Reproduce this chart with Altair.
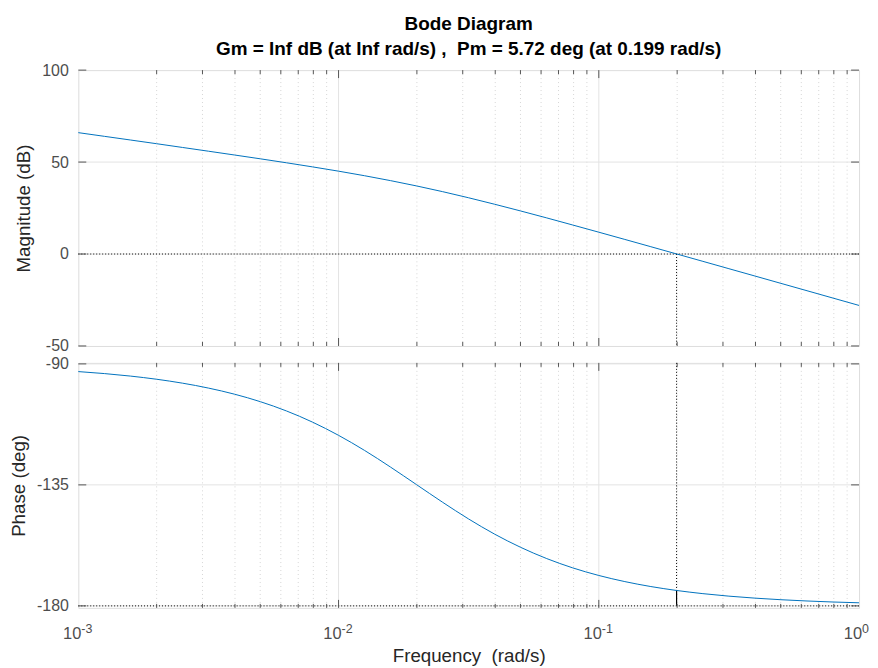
import altair as alt
import pandas as pd

# ---------------- data ----------------
freq = [0.001, 0.001259, 0.001585, 0.001995, 0.002512, 0.003162, 0.003981, 0.005012,
        0.00631, 0.007943, 0.01, 0.01259, 0.01585, 0.01995, 0.02512, 0.03162, 0.03981,
        0.05012, 0.0631, 0.07943, 0.1, 0.1259, 0.1585, 0.1995, 0.2512, 0.3162, 0.3981,
        0.5012, 0.631, 0.7943, 1.0]
mag_db = [66.0, 64.0, 62.0, 60.0, 57.95, 55.91, 53.85, 51.76, 49.61, 47.38, 45.05,
          42.57, 39.9, 37.02, 33.91, 30.58, 27.06, 23.4, 19.63, 15.77, 11.87, 7.93,
          3.97, 0.0, -3.99, -7.98, -11.97, -15.97, -19.96, -23.96, -27.96]
phase_deg = [-92.86, -93.6, -94.53, -95.7, -97.16, -98.99, -101.26, -104.07, -107.51,
             -111.66, -116.57, -122.19, -128.4, -134.93, -141.47, -147.69, -153.33,
             -158.24, -162.41, -165.87, -168.69, -170.97, -172.81, -174.28, -175.45,
             -176.38, -177.12, -177.71, -178.18, -178.56, -178.85]

decade_ticks = [0.001, 0.01, 0.1, 1.0]
decade_base = ["10", "10", "10", "10"]
decade_exp = ["-3", "-2", "-1", "0"]
major_grid_x = [0.01, 0.1]
minor_x = [0.002, 0.003, 0.004, 0.005, 0.006, 0.007, 0.008, 0.009,
           0.02, 0.03, 0.04, 0.05, 0.06, 0.07, 0.08, 0.09,
           0.2, 0.3, 0.4, 0.5, 0.6, 0.7, 0.8, 0.9]
mag_ticks = [-50, 0, 50, 100]
mag_grid = [50, 0]
phase_ticks = [-180, -135, -90]
mag_domain = [-50, 100]
phase_domain = [-180.74, -89.63]

pm_freq = 0.199
pm_phase = -174.28
gain_ref = 0
phase_ref = -180

title_text = "Bode Diagram"
subtitle_text = "Gm = Inf dB (at Inf rad/s) ,\u00a0 Pm = 5.72 deg (at 0.199 rad/s)"
mag_label = "Magnitude (dB)"
phase_label = "Phase (deg)"
freq_label = "Frequency\u00a0 (rad/s)"

# ---------------- style ----------------
W, H1, H2 = 784, 277, 246
FONT = "Liberation Sans, Arial, sans-serif"
FRAME = "#555555"
LABEL = "#4d4d4d"
TITLE = "#262626"
LINE = "#0072BD"
GRID = "#e3e3e3"
MINOR = "#d6d6d6"
MAJ_T, MIN_T = 8, 4
TICK_FS = 16
AXT_FS = 18.8

xscale = alt.Scale(type="log", domain=[0.001, 1], nice=False)
ymag = alt.Scale(domain=mag_domain, nice=False, zero=False)
yph = alt.Scale(domain=phase_domain, nice=False, zero=False)

df_curve = pd.DataFrame({"freq": freq, "mag": mag_db, "phase": phase_deg})
df_minor = pd.DataFrame({"f": minor_x})
df_major = pd.DataFrame({"f": major_grid_x})
df_dec = pd.DataFrame({"f": decade_ticks, "base": decade_base, "exp": decade_exp})


def yaxis(vals, title, tx):
    return alt.Axis(values=vals, ticks=False, tickSize=0, domain=False, grid=False,
                    labelExpr="'' + datum.value",
                    labelPadding=10, labelFontSize=TICK_FS, labelColor=LABEL, labelFont=FONT,
                    title=title, titleFontSize=AXT_FS, titleFontWeight="normal",
                    titleColor=TITLE, titleFont=FONT, titleX=tx, titleBaseline="alphabetic")


freq_axis = alt.Axis(labels=False, ticks=False, tickSize=0, domain=False, grid=False,
                     title=freq_label, titleFontSize=AXT_FS, titleFontWeight="normal",
                     titleColor=TITLE, titleFont=FONT, titleY=54, titleBaseline="alphabetic")


def build_panel(h, yscale, yvals, ytitle, ytx, xaxis, grid_y, ref_y, pm_segments, ycol,
                bottom_labels):
    yax = yaxis(yvals, ytitle, ytx)

    def X(field="f"):
        return alt.X(f"{field}:Q", scale=xscale, axis=xaxis)

    def Y(field="v"):
        return alt.Y(f"{field}:Q", scale=yscale, axis=yax)

    layers = [
        alt.Chart(df_minor).mark_rule(color=MINOR, strokeDash=[1, 3], strokeWidth=1).encode(x=X()),
        alt.Chart(df_major).mark_rule(color=GRID, strokeWidth=1).encode(x=X()),
        alt.Chart(pd.DataFrame({"v": grid_y})).mark_rule(color=GRID, strokeWidth=1).encode(y=Y()),
        alt.Chart(pd.DataFrame({"v": [ref_y]}))
        .mark_rule(color="#000000", strokeDash=[1, 2], strokeWidth=1).encode(y=Y()),
    ]
    for a, b, dash, sw in pm_segments:
        layers.append(alt.Chart(pd.DataFrame({"f": [pm_freq], "v": [a], "b": [b]}))
                      .mark_rule(color="#000000", strokeWidth=sw, **({"strokeDash": dash} if dash else {}))
                      .encode(x=X(), y=Y(), y2="b:Q"))
    layers.append(alt.Chart(df_curve).mark_line(color=LINE, strokeWidth=1, interpolate="monotone")
                  .encode(x=X("freq"), y=Y(ycol)))
    for df, ln in ((df_major, MAJ_T), (df_minor, MIN_T)):
        layers.append(alt.Chart(df).mark_rule(color=FRAME, strokeWidth=1).encode(
            x=X(), y=alt.value(0), y2=alt.value(ln)))
        layers.append(alt.Chart(df).mark_rule(color=FRAME, strokeWidth=1).encode(
            x=X(), y=alt.value(h - ln), y2=alt.value(h)))
    dfy = pd.DataFrame({"v": yvals})
    layers.append(alt.Chart(dfy).mark_rule(color=FRAME, strokeWidth=1).encode(
        y=Y(), x=alt.value(0), x2=alt.value(MAJ_T)))
    layers.append(alt.Chart(dfy).mark_rule(color=FRAME, strokeWidth=1).encode(
        y=Y(), x=alt.value(W - MAJ_T), x2=alt.value(W)))
    if bottom_labels:
        layers.append(alt.Chart(df_dec).mark_text(align="right", baseline="alphabetic", dx=3,
                                                  fontSize=16.5, color=LABEL, font=FONT)
                      .encode(x=X(), y=alt.value(h + 31), text="base:N"))
        layers.append(alt.Chart(df_dec).mark_text(align="left", baseline="alphabetic", dx=3,
                                                  fontSize=12.5, color=LABEL, font=FONT)
                      .encode(x=X(), y=alt.value(h + 25), text="exp:N"))
    return alt.layer(*layers).properties(width=W, height=h)


mag_chart = build_panel(H1, ymag, mag_ticks, mag_label, -49, None, mag_grid, gain_ref,
                        [(gain_ref, mag_domain[0], [1, 2], 1)], "mag", False)
ph_chart = build_panel(H2, yph, phase_ticks, phase_label, -54, freq_axis, phase_ticks, phase_ref,
                       [(phase_domain[1], pm_phase, [1, 2], 1), (pm_phase, phase_ref, None, 1.2)],
                       "phase", True)

chart = alt.vconcat(mag_chart, ph_chart, spacing=17, bounds="flush").properties(
    title=alt.Title(text=title_text, subtitle=subtitle_text, fontSize=19, subtitleFontSize=19,
                    fontWeight="bold", subtitleFontWeight="bold", color="#000000",
                    subtitleColor="#000000", font=FONT, subtitleFont=FONT, anchor="middle",
                    frame="group", offset=3, subtitlePadding=5.5),
    padding={"left": 0.6, "top": 6, "right": 0, "bottom": 0},
).configure_view(stroke=FRAME, strokeWidth=1).configure(background="white")

chart.save("out.html", embed_options={"renderer": "svg", "actions": False})
